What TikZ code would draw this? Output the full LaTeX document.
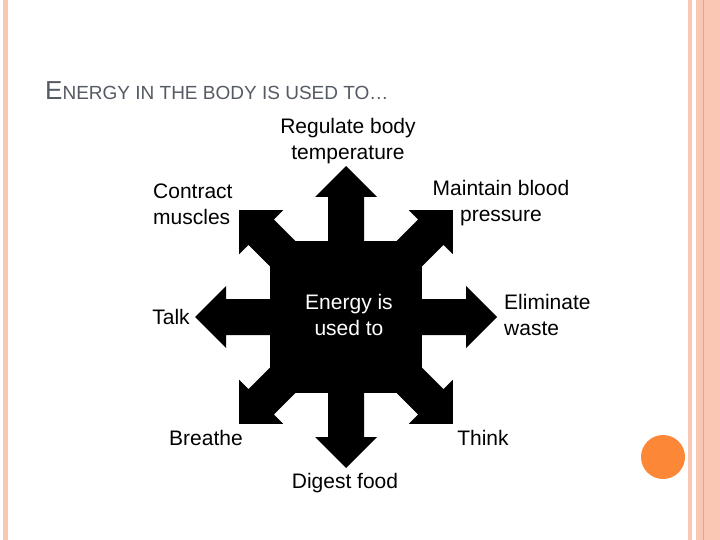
\documentclass[tikz,border=0pt]{standalone}
\usepackage{fontspec}
\setmainfont{Liberation Sans}
\definecolor{peach}{HTML}{F9C7B4}
\definecolor{peachd}{HTML}{E9A58A}
\definecolor{orng}{HTML}{FB8737}
\definecolor{ttl}{HTML}{555A64}
\begin{document}
\begin{tikzpicture}[x=1pt,y=-1pt,
  lbl/.style={font=\fontsize{21}{26}\selectfont, align=center, inner sep=0pt},
  arr/.style={fill=black}]
\useasboundingbox (0,0) rectangle (720,540);
\fill[white] (0,0) rectangle (720,540);
% borders
\fill[peach] (3,0) rectangle (8,540);
\fill[peach] (688,0) rectangle (692,540);
\fill[peach] (696,0) rectangle (720,540);
\draw[peachd,line width=0.8] (703,0) -- (703,540);
\fill[orng] (663,457) circle (22);
% title
\node[anchor=base west, inner sep=0pt, text=ttl] (title) at (45,100)
  {\fontsize{26}{30}\selectfont E\fontsize{19}{22}\selectfont NERGY IN THE BODY IS USED TO\ldots};
% star
\coordinate (c) at (346,317);
\fill[arr] (270,241) rectangle (422,393);
\foreach \a in {0,45,...,315}{
  \fill[arr,shift={(c)},rotate=\a] (0,-18) -- (120,-18) -- (120,-31) -- (151,0) -- (120,31) -- (120,18) -- (0,18) -- cycle;
}
\node[lbl,text=white] (center) at (349,315) {Energy is\\used to};
\node[lbl] (reg) at (348,141) {Regulate body\\temperature};
\node[lbl,align=left,anchor=west] (con) at (153,204) {Contract\\muscles};
\node[lbl] (mai) at (501,203) {Maintain blood\\pressure};
\node[lbl] (talk) at (171,317) {Talk};
\node[lbl,align=left,anchor=west] (eli) at (504,315) {Eliminate\\waste};
\node[lbl] (bre) at (206,438) {Breathe};
\node[lbl] (thi) at (483,438) {Think};
\node[lbl] (dig) at (345,483) {Digest food};
\end{tikzpicture}
\end{document}
